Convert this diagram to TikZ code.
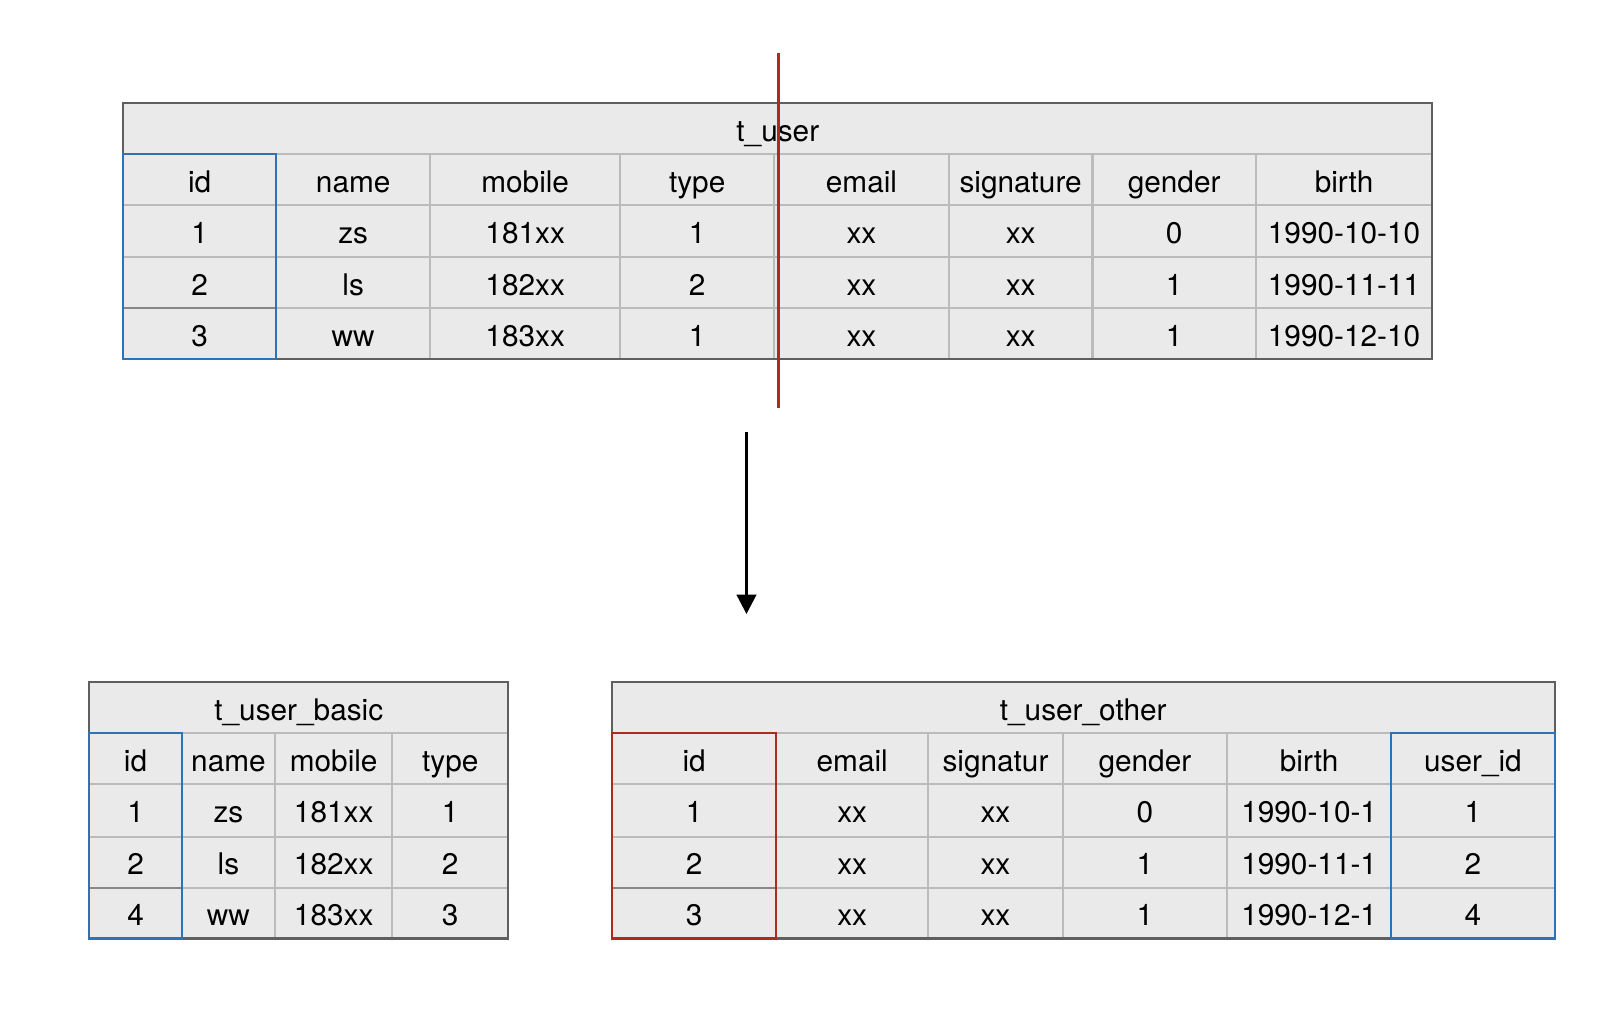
\documentclass[tikz,border=0pt]{standalone}
\usepackage{fontspec}
\setmainfont{TeX Gyre Heros}
\usetikzlibrary{arrows.meta}
\definecolor{cellFill}{HTML}{EAEAEA}
\definecolor{frameGray}{HTML}{5F5F5F}
\definecolor{gridGray}{HTML}{BBBBBB}
\definecolor{keyGray}{HTML}{888888}
\definecolor{keyBlue}{HTML}{2E72B8}
\definecolor{cutRed}{HTML}{B02A1C}
\tikzset{
  cell/.style={anchor=base, inner sep=0pt, font=\fontsize{14.5}{17}\selectfont},
  grid line/.style={gridGray, line width=1pt},
  frame line/.style={frameGray, line width=1pt},
  key blue/.style={keyBlue, line width=1pt},
  key red/.style={cutRed, line width=1pt},
}

\begin{document}
\begin{tikzpicture}[x=0.5pt,y=-0.5pt]
	\useasboundingbox (0,0) rectangle (1568,983.6);
	% t_user
	\fill[cellFill] (120,100) rectangle (1395,350);
	\foreach \y in {150,200,250,300} \draw[grid line] (120,\y) -- (1395,\y);
	\foreach \x in {269,419,604,754,924,1064,1223} \draw[grid line] (\x,150) -- (\x,350);
	\draw[keyGray, line width=1pt] (120,300) -- (269,300);
	\draw[frame line] (120,100) rectangle (1395,350);
	\draw[key blue] (120,150) rectangle (269,350);
	\node[cell] (user-title) at (757.5,137.5) {t\_user};
	\foreach \row [count=\r] in {{id,name,mobile,type,email,signature,gender,birth},{1,zs,181xx,1,xx,xx,0,1990-10-10},{2,ls,182xx,2,xx,xx,1,1990-11-11},{3,ww,183xx,1,xx,xx,1,1990-12-10}}
		\foreach \t [count=\c] in \row {
			\pgfmathsetmacro{\cx}{{194.5,344,511.5,679,839,994,1143.5,1309}[\c-1]}
			\node[cell] (user-\r-\c) at (\cx,137.5+50*\r) {\t};
		}
	% cut line
	\coordinate (cut-top) at (758,52);
	\coordinate (cut-bot) at (758,397);
	\draw[cutRed, line width=1.6pt] (cut-top) -- (cut-bot);
	% arrow
	\coordinate (split-from) at (727,421);
	\coordinate (split-to) at (727,598);
	\draw[-{Triangle[width=9.5pt,length=9.5pt]}, line width=1.5pt] (split-from) -- (split-to);
	% t_user_basic
	\fill[cellFill] (87,664) rectangle (495,914);
	\foreach \y in {714,764,815,865} \draw[grid line] (87,\y) -- (495,\y);
	\foreach \x in {177,268,382} \draw[grid line] (\x,714) -- (\x,914);
	\draw[keyGray, line width=1pt] (87,865) -- (177,865);
	\draw[frame line] (87,664) rectangle (495,914);
	\draw[key blue] (87,714) rectangle (177,914);
	\node[cell] (basic-title) at (291,701.5) {t\_user\_basic};
	\foreach \row [count=\r] in {{id,name,mobile,type},{1,zs,181xx,1},{2,ls,182xx,2},{4,ww,183xx,3}}
		\foreach \t [count=\c] in \row {
			\pgfmathsetmacro{\cx}{{132,222.5,325,438.5}[\c-1]}
			\node[cell] (basic-\r-\c) at (\cx,701.5+50*\r) {\t};
		}
	% t_user_other
	\fill[cellFill] (596,664) rectangle (1514,914);
	\foreach \y in {714,764,815,865} \draw[grid line] (596,\y) -- (1514,\y);
	\foreach \x in {756,904,1035,1195,1355} \draw[grid line] (\x,714) -- (\x,914);
	\draw[keyGray, line width=1pt] (596,865) -- (756,865);
	\draw[frame line] (596,664) rectangle (1514,914);
	\draw[key red] (596,714) rectangle (756,914);
	\draw[key blue] (1355,714) rectangle (1514,914);
	\node[cell] (other-title) at (1055,701.5) {t\_user\_other};
	\foreach \row [count=\r] in {{id,email,signatur,gender,birth,user\_id},{1,xx,xx,0,1990-10-1,1},{2,xx,xx,1,1990-11-1,2},{3,xx,xx,1,1990-12-1,4}}
		\foreach \t [count=\c] in \row {
			\pgfmathsetmacro{\cx}{{676,830,969.5,1115,1275,1434.5}[\c-1]}
			\node[cell] (other-\r-\c) at (\cx,701.5+50*\r) {\t};
		}
\end{tikzpicture}
\end{document}
